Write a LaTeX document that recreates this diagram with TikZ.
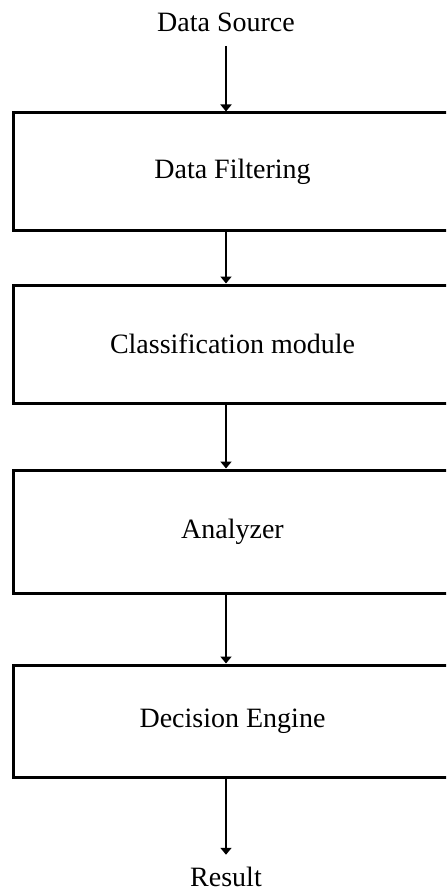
\documentclass[tikz,border=0pt]{standalone}
\usepackage{fontspec}
\setmainfont{Liberation Serif}
\usetikzlibrary{arrows.meta}
\begin{document}
\begin{tikzpicture}[x=0.5pt, y=-0.5pt,
  dfbox/.style = {draw, line width=1.5pt, minimum width=219pt, inner sep=0pt,
                  font=\fontsize{14}{17}\selectfont},
  dfarr/.style = {-{Triangle[width=5.5pt,length=3.5pt]}, line width=1.2pt},
  dflbl/.style = {font=\fontsize{14}{17}\selectfont, inner sep=7pt}
]
  \clip (0,0) rectangle (446,893);
  % input and output
  \node[dflbl] (src) at (226,22) {Data Source};
  \node[dflbl, inner sep=6pt] (res) at (226,877) {Result};
  % processing stages
  \node[dfbox, minimum height=59pt]   (fil) at (232.5,172)   {Data Filtering};
  \node[dfbox, minimum height=59pt]   (cls) at (232.5,344)   {Classification module};
  \node[dfbox, minimum height=61.5pt] (ana) at (232.5,531.5) {Analyzer};
  \node[dfbox, minimum height=56pt]   (dec) at (232.5,721)   {Decision Engine};
  % flow
  \draw[dfarr] (src.south) -- (src.south |- fil.north);
  \foreach \a/\b in {fil/cls, cls/ana, ana/dec} {
    \draw[dfarr] (\a.south -| src) -- (\b.north -| src);
  }
  \draw[dfarr] (dec.south -| res) -- (res.north);
\end{tikzpicture}
\end{document}
